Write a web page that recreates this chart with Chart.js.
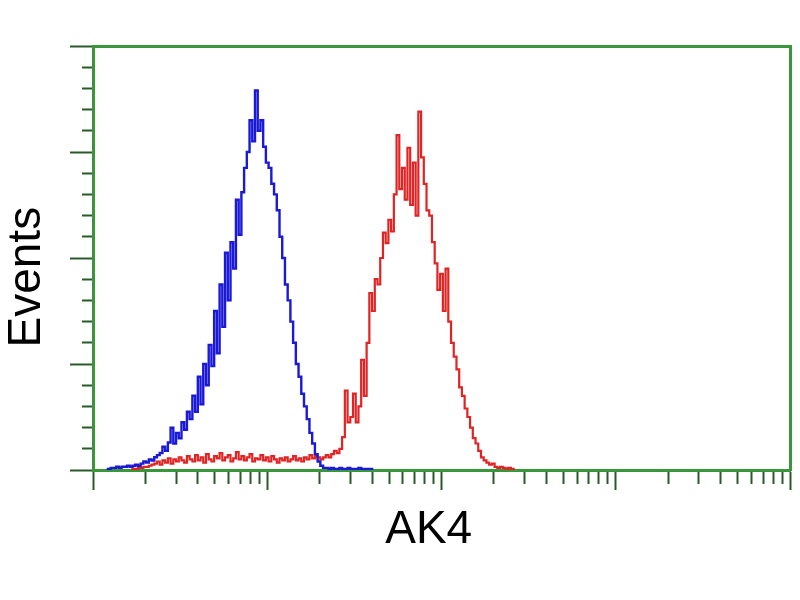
<!DOCTYPE html>
<html>
<head>
<meta charset="utf-8">
<script src="https://cdn.jsdelivr.net/npm/chart.js@4"></script>
<style>
html,body{margin:0;padding:0;background:#fff;}
#wrap{width:800px;height:600px;}
</style>
</head>
<body>
<div id="wrap"><canvas id="c" width="800" height="600"></canvas></div>
<script>
// ---- data (histogram counts per log channel, 256 channels over 4 decades) ----
const xTitle = 'AK4';
const yTitle = 'Events';
const channelCount = 256;
const blueStart = 5;   // first channel of the blue series
const blueCounts = [
  0, 1,
  2, 2, 3, 2, 3, 3, 4, 3, 4, 5, 4,
  6, 8, 7, 10, 9, 12, 14,
  16, 22, 18, 26,
  40, 25, 35, 30, 45, 38, 55,
  48, 70, 55, 88, 62, 100, 80, 118, 98, 150, 110, 175, 135, 205, 160, 215, 190, 255, 222, 262, 285, 300, 330, 310, 358, 320, 330, 305,
  290, 285, 270, 260, 245, 220, 200, 175, 160, 140, 120, 100, 88, 72, 60, 48, 35, 25, 15, 8, 4, 2,
  2, 1, 2, 1, 1, 2, 1, 1, 2, 1, 1, 1, 2, 1, 1, 1, 1, 0
];
const redStart = 14;   // first channel of the red series
const redCounts = [
  0, 1, 1, 2, 2, 3, 3, 4, 5,
  6, 8, 5, 9, 7, 11, 6, 10, 8, 12,
  9, 7, 13, 10, 8, 14, 9, 12, 7, 15,
  10, 8, 13, 11, 16, 9, 12, 14, 8, 11,
  17, 10, 13, 9, 12, 15, 8, 11, 10, 14,
  9, 12, 8, 13, 10, 7, 11, 9, 12, 8,
  10, 13, 9, 11, 8, 12, 10, 14, 11, 13,
  12,
  10, 12, 14, 12, 15, 18, 16, 20, 31,
  75, 45, 50, 72, 45, 60, 104, 70, 120, 167,
  150, 180, 175, 200, 224, 214, 236, 225, 260, 316,
  265, 285, 255, 304, 250, 290, 240, 338, 295, 270,
  245, 240, 215, 195, 170, 185, 150, 190, 140, 120,
  107, 95, 78, 70, 58, 50, 40, 30, 25, 18,
  12, 9, 7, 5, 6, 3, 2, 3, 2, 1,
  2, 1, 0
];
const xTickValues = [1,2,3,4,5,6,7,8,9,10,20,30,40,50,60,70,80,90,100,200,300,400,500,600,700,800,900,1000,2000,3000,4000,5000,6000,7000,8000,9000,10000];
const xMajorValues = [1,10,100,1000,10000];
const yMax = 400;
const yMinorStep = 20;
const yMajorStep = 100;

// ---- styling ----
const GREEN = 'rgb(58,150,58)';
const TICK = 'rgb(40,90,40)';
const FONT = "'Liberation Sans', Arial, sans-serif";

const toPoints = (start, arr) => arr.map((v, i) => ({x: start + i, y: v}));

new Chart(document.getElementById('c'), {
  type: 'line',
  data: {
    datasets: [
      {label: 'control', data: toPoints(blueStart, blueCounts), borderColor: 'rgb(25,25,215)', borderWidth: 2.4, stepped: 'middle', pointRadius: 0, fill: false, xAxisID: 'x', yAxisID: 'y'},
      {label: 'AK4', data: toPoints(redStart, redCounts), borderColor: 'rgb(225,35,35)', borderWidth: 2.2, stepped: 'middle', pointRadius: 0, fill: false, xAxisID: 'x', yAxisID: 'y'}
    ]
  },
  options: {
    responsive: false,
    animation: false,
    devicePixelRatio: 1,
    layout: {padding: {left: 0, right: 10, top: 46, bottom: 30}},
    plugins: {legend: {display: false}, tooltip: {enabled: false}},
    scales: {
      x: {type: 'linear', display: false, min: 0, max: channelCount},
      xl: {
        type: 'logarithmic', position: 'bottom', min: 1, max: 10000,
        afterBuildTicks: s => { s.ticks = xTickValues.map(v => ({value: v, major: xMajorValues.includes(v)})); },
        ticks: {display: false, autoSkip: false},
        grid: {
          drawOnChartArea: false, drawTicks: true, tickLength: 20, tickColor: TICK, tickWidth: 2,
          tickBorderDash: ctx => (ctx.tick && xMajorValues.includes(ctx.tick.value)) ? [] : [12, 100]
        },
        border: {color: GREEN, width: 3},
        title: {display: true, text: xTitle + '  ', color: '#000', font: {family: FONT, size: 46, lineHeight: 1.2}, padding: {top: 12.4, bottom: 12.4}}
      },
      x2: {
        type: 'linear', position: 'top', min: 0, max: 1,
        ticks: {display: false}, grid: {display: true, drawOnChartArea: false, drawTicks: false},
        border: {color: GREEN, width: 3}
      },
      y: {
        type: 'linear', position: 'left', min: 0, max: yMax,
        ticks: {display: false, stepSize: yMinorStep, autoSkip: false},
        grid: {
          drawOnChartArea: false, drawTicks: true, tickLength: 23, tickColor: TICK, tickWidth: 2,
          tickBorderDash: ctx => (ctx.tick && ctx.tick.value % yMajorStep === 0) ? [] : [0, 12, 12, 100]
        },
        border: {color: GREEN, width: 3},
        title: {display: true, text: yTitle + '   ', color: '#000', font: {family: FONT, size: 46, lineHeight: 1.1}, padding: {top: 2, bottom: 17.4}}
      },
      y2: {
        type: 'linear', position: 'right', min: 0, max: 1,
        ticks: {display: false}, grid: {display: true, drawOnChartArea: false, drawTicks: false},
        border: {color: GREEN, width: 3}
      }
    }
  }
});
</script>
</body>
</html>
